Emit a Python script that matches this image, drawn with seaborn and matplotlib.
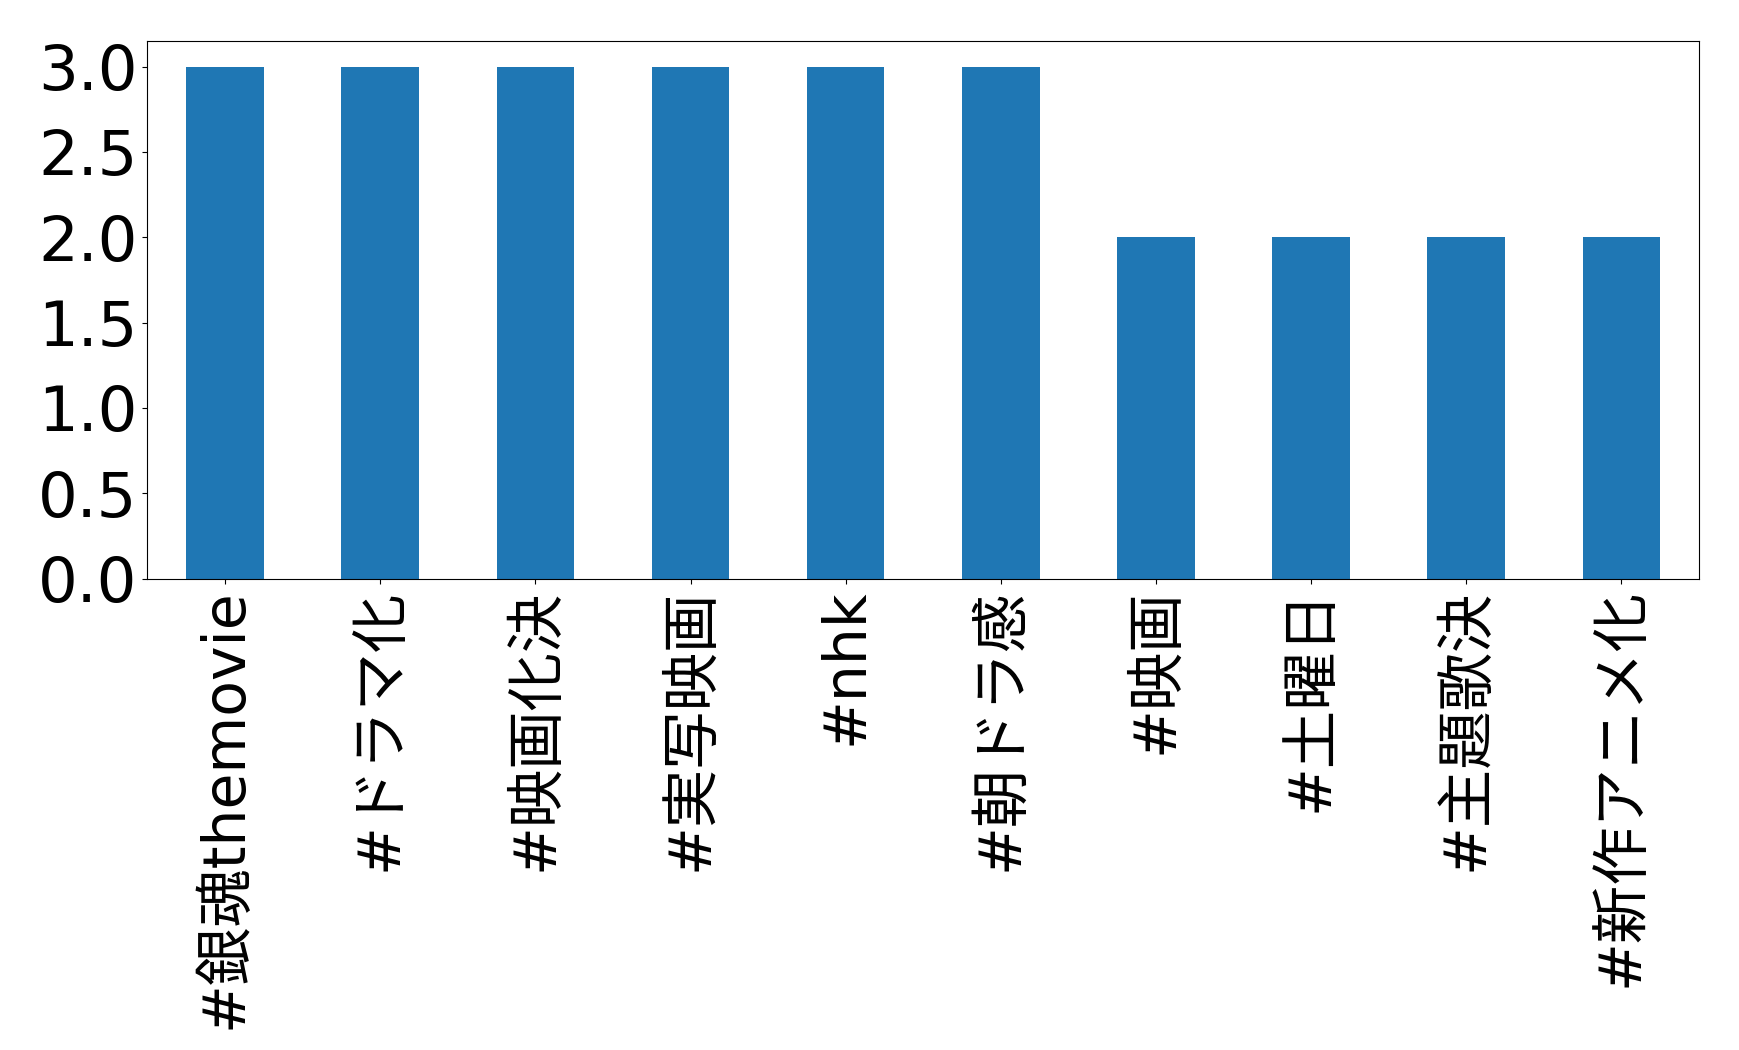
import matplotlib
matplotlib.use("Agg")
import matplotlib.pyplot as plt
import seaborn as sns
import pandas as pd

hashtags = ["#銀魂themovie", "#ドラマ化", "#映画化決", "#実写映画", "#nhk",
            "#朝ドラ感", "#映画", "#土曜日", "#主題歌決", "#新作アニメ化"]
counts = [3, 3, 3, 3, 3, 3, 2, 2, 2, 2]
yticks = [0.0, 0.5, 1.0, 1.5, 2.0, 2.5, 3.0]

df = pd.DataFrame({"hashtag": hashtags, "count": counts})

plt.rcParams["font.family"] = ["DejaVu Sans", "Noto Sans CJK JP"]
fig = plt.figure(figsize=(17.39, 10.5), dpi=100)
ax = fig.add_axes([0.0848, 0.449, 0.977 - 0.0848, 0.961 - 0.449])
sns.barplot(data=df, x="hashtag", y="count", color="#1f77b4", saturation=1,
            width=0.5, ax=ax)
ax.set_xlim(-0.5, len(hashtags) - 0.5)
ax.set_ylim(0, 3.15)
ax.set_yticks(yticks)
ax.set_yticklabels([f"{v:.1f}" for v in yticks])
ax.set_xticks(range(len(hashtags)))
ax.set_xticklabels(hashtags, rotation=90)
ax.tick_params(axis="y", labelsize=45)
ax.tick_params(axis="x", labelsize=42)
ax.set_xlabel("")
ax.set_ylabel("")
for s in ax.spines.values():
    s.set_visible(True)
    s.set_color("black")
fig.savefig("out.png", dpi=100)
